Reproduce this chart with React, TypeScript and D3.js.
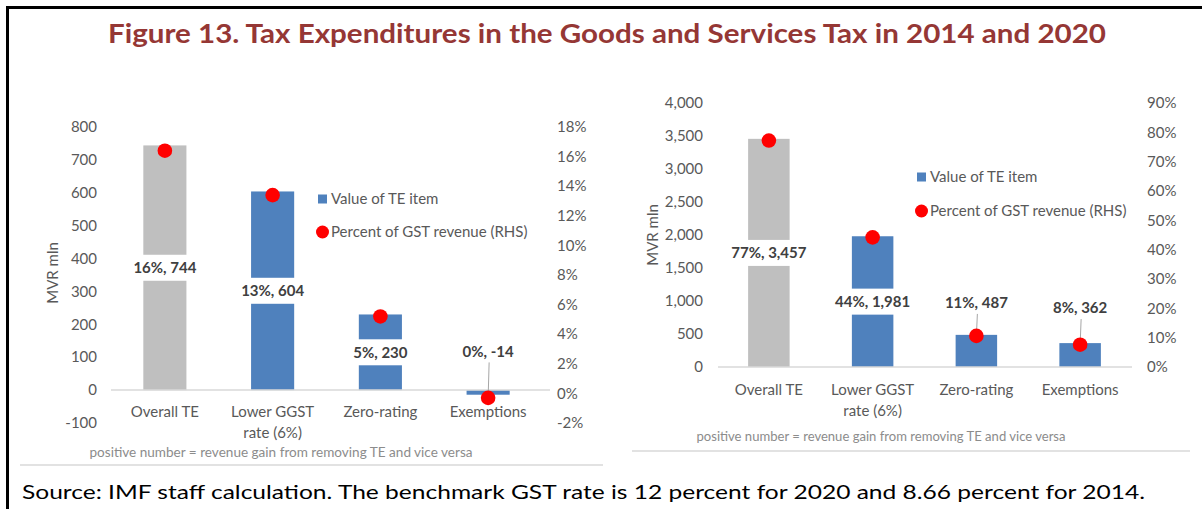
import { useMemo } from "react";
import * as d3 from "d3";

// ---- data ----
const categories = ["Overall TE", "Lower GGST rate (6%)", "Zero-rating", "Exemptions"];
const categoryLines = [["Overall TE"], ["Lower GGST", "rate (6%)"], ["Zero-rating"], ["Exemptions"]];

const value2014 = [744, 604, 230, -14];
const share2014 = [16.4, 13.4, 5.2, -0.3];
const label2014 = ["16%, 744", "13%, 604", "5%, 230", "0%, -14"];
const leftTicks2014 = [-100, 0, 100, 200, 300, 400, 500, 600, 700, 800];
const rightTicks2014 = [-2, 0, 2, 4, 6, 8, 10, 12, 14, 16, 18];

const value2020 = [3457, 1981, 487, 362];
const share2020 = [77.2, 44.2, 10.6, 7.6];
const label2020 = ["77%, 3,457", "44%, 1,981", "11%, 487", "8%, 362"];
const leftTicks2020 = [0, 500, 1000, 1500, 2000, 2500, 3000, 3500, 4000];
const rightTicks2020 = [0, 10, 20, 30, 40, 50, 60, 70, 80, 90];

const legendItems = ["Value of TE item", "Percent of GST revenue (RHS)"];
const note = "positive number = revenue gain from removing TE and vice versa";
const title = "Figure 13. Tax Expenditures in the Goods and Services Tax in 2014 and 2020";
const source =
  "Source: IMF staff calculation. The benchmark GST rate is 12 percent for 2020 and 8.66 percent for 2014.";

// ---- styling ----
const FONT = "Lato, 'Open Sans', sans-serif";
const GREY_BAR = "#BFBFBF";
const BLUE = "#4F81BD";
const RED = "#FF0000";
const TEXT = "#595959";
const LABEL = "#404040";
const RULE = "#D9D9D9";

// Excel-style ticks use a plain hyphen, not d3's unicode minus
const locale = d3.formatLocale({
  decimal: ".",
  thousands: ",",
  grouping: [3],
  currency: ["", ""],
  minus: "-",
});

interface Layout {
  x: [number, number];
  axisX: [number, number];
  y: [number, number];
  leftDomain: [number, number];
  rightDomain: [number, number];
  leftLabelX: number;
  rightLabelX: number;
  axisTitle: [number, number];
  catY: number;
  legendX: number;
  legendY: [number, number];
  noteX: number;
  noteY: number;
  noteW: number;
  ruleY: number;
  ruleX: [number, number];
  /** Labels moved above the bar (px), with a leader line down to the dot. */
  labelLift: number[];
  fmt: (v: number) => string;
}

const layout2014: Layout = {
  x: [111, 542],
  axisX: [111, 550],
  y: [423, 127],
  leftDomain: [-100, 800],
  rightDomain: [-2, 18],
  leftLabelX: 97,
  rightLabelX: 557,
  axisTitle: [53, 273],
  catY: 412,
  legendX: 318,
  legendY: [199, 232],
  noteX: 281,
  noteY: 453,
  noteW: 383,
  ruleY: 465,
  ruleX: [20, 603],
  labelLift: [0, 0, 0, 41],
  fmt: locale.format("d"),
};

const layout2020: Layout = {
  x: [717, 1132],
  axisX: [718, 1132],
  y: [367, 103],
  leftDomain: [0, 4000],
  rightDomain: [0, 90],
  leftLabelX: 703,
  rightLabelX: 1147,
  axisTitle: [653, 235],
  catY: 390,
  legendX: 917,
  legendY: [177, 211],
  noteX: 881,
  noteY: 437,
  noteW: 369,
  ruleY: 451,
  ruleX: [632, 1190],
  labelLift: [0, 0, 48, 47],
  fmt: locale.format(","),
};

function Panel({
  values,
  shares,
  labels,
  leftTicks,
  rightTicks,
  L,
}: {
  values: number[];
  shares: number[];
  labels: string[];
  leftTicks: number[];
  rightTicks: number[];
  L: Layout;
}) {
  const { xScale, yLeft, yRight } = useMemo(() => {
    const xScale = d3
      .scaleBand<string>()
      .domain(categories)
      .range(L.x)
      .paddingInner(0.6)
      .paddingOuter(0.3);
    // 2014 chart's RHS axis is offset a touch from the LHS zero; both span the same pixels.
    const yLeft = d3.scaleLinear().domain(L.leftDomain).range(L.y);
    const yRight = d3.scaleLinear().domain(L.rightDomain).range(L.y);
    return { xScale, yLeft, yRight };
  }, [L]);

  const bw = xScale.bandwidth();
  const zero = yLeft(0);

  return (
    <g fontFamily={FONT}>
      {leftTicks.map((t) => (
        <text
          key={"l" + t}
          x={L.leftLabelX}
          y={yLeft(t)}
          dy="0.35em"
          textAnchor="end"
          fontSize={15}
          fill={TEXT}
        >
          {L.fmt(t)}
        </text>
      ))}
      {rightTicks.map((t) => (
        <text
          key={"r" + t}
          x={L.rightLabelX}
          y={yRight(t)}
          dy="0.35em"
          fontSize={15}
          fill={TEXT}
        >
          {t}%
        </text>
      ))}
      <text
        transform={`translate(${L.axisTitle[0]},${L.axisTitle[1]}) rotate(-90)`}
        textAnchor="middle"
        dy="0.35em"
        fontSize={15}
        fill={TEXT}
      >
        MVR mln
      </text>

      {values.map((v, i) => {
        const x = xScale(categories[i]) ?? 0;
        return (
          <rect
            key={"b" + i}
            x={x}
            y={Math.min(yLeft(v), zero)}
            width={bw}
            height={Math.abs(yLeft(v) - zero)}
            fill={i === 0 ? GREY_BAR : BLUE}
          />
        );
      })}

      <line x1={L.axisX[0]} x2={L.axisX[1]} y1={zero} y2={zero} stroke={RULE} strokeWidth={1.5} />

      {values.map((v, i) => {
        const cx = (xScale(categories[i]) ?? 0) + bw / 2;
        const lift = L.labelLift[i];
        const ly = (yLeft(v) + zero) / 2 - lift;
        const dotY = yRight(shares[i]);
        const w = labels[i].length * 7.8 + 8;
        return (
          <g key={"lab" + i}>
            {lift === 0 ? (
              <rect x={cx - w / 2} y={ly - 13} width={w} height={26} fill="#fff" />
            ) : (
              <line x1={cx + 1} x2={cx} y1={ly + 11} y2={dotY} stroke="#A6A6A6" strokeWidth={1} />
            )}
            <text
              x={cx}
              y={ly}
              dy="0.35em"
              textAnchor="middle"
              fontSize={15}
              fontWeight={700}
              fill={LABEL}
            >
              {labels[i]}
            </text>
          </g>
        );
      })}

      {shares.map((s, i) => (
        <circle
          key={"d" + i}
          cx={(xScale(categories[i]) ?? 0) + bw / 2}
          cy={yRight(s)}
          r={7.3}
          fill={RED}
        />
      ))}

      {categoryLines.map((lines, i) => (
        <text
          key={"c" + i}
          x={(xScale(categories[i]) ?? 0) + bw / 2}
          y={L.catY}
          textAnchor="middle"
          fontSize={15}
          fill={TEXT}
        >
          {lines.map((ln, j) => (
            <tspan key={j} x={(xScale(categories[i]) ?? 0) + bw / 2} dy={j === 0 ? "0.35em" : 20.5}>
              {ln}
            </tspan>
          ))}
        </text>
      ))}

      {/* legend */}
      <rect x={L.legendX} y={L.legendY[0] - 4.5} width={9} height={9} fill={BLUE} />
      <circle cx={L.legendX + 4.5} cy={L.legendY[1]} r={6.5} fill={RED} />
      {legendItems.map((t, i) => (
        <text
          key={"lg" + i}
          x={L.legendX + 13}
          y={L.legendY[i]}
          dy="0.35em"
          fontSize={15}
          fill={TEXT}
        >
          {t}
        </text>
      ))}

      <text
        x={L.noteX}
        y={L.noteY}
        dy="0.35em"
        textAnchor="middle"
        fontSize={12.5}
        fill="#8C8C8C"
        textLength={L.noteW}
        lengthAdjust="spacingAndGlyphs"
      >
        {note}
      </text>
      <line x1={L.ruleX[0]} x2={L.ruleX[1]} y1={L.ruleY} y2={L.ruleY} stroke={RULE} strokeWidth={1.5} />
    </g>
  );
}

export default function App() {
  return (
    <svg
      width={1202}
      height={509}
      viewBox="0 0 1202 509"
      style={{ position: "absolute", left: 0, top: 0, background: "#fff" }}
    >
      <rect width={1202} height={509} fill="#fff" />
      <line x1={6} x2={1202} y1={7.5} y2={7.5} stroke="#000" strokeWidth={3} />
      <line x1={7.5} x2={7.5} y1={6} y2={509} stroke="#000" strokeWidth={3} />
      <text
        x={108}
        y={43}
        fontFamily={FONT}
        fontSize={26}
        fontWeight={700}
        fill="#953735"
        textLength={998}
        lengthAdjust="spacingAndGlyphs"
      >
        {title}
      </text>

      <Panel
        values={value2014}
        shares={share2014}
        labels={label2014}
        leftTicks={leftTicks2014}
        rightTicks={rightTicks2014}
        L={layout2014}
      />
      <Panel
        values={value2020}
        shares={share2020}
        labels={label2020}
        leftTicks={leftTicks2020}
        rightTicks={rightTicks2020}
        L={layout2020}
      />

      <text
        x={22}
        y={499}
        fontFamily={FONT}
        fontSize={20}
        fill="#000"
        textLength={1123}
        lengthAdjust="spacingAndGlyphs"
      >
        {source}
      </text>
    </svg>
  );
}
